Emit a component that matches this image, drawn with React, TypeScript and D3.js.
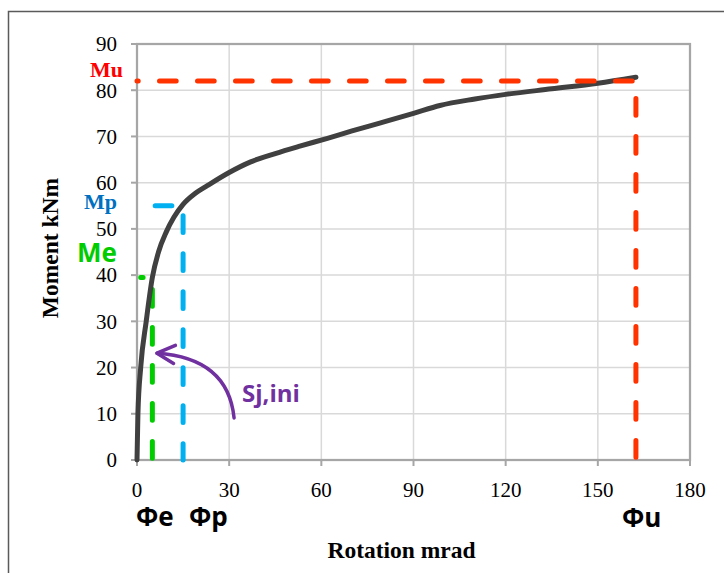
import React from "react";
import * as d3 from "d3";

const rotation = [0, 0.3, 1.2, 3, 5, 7, 9.5, 12, 15, 19, 23, 30, 37, 45, 53, 62, 70, 79, 90, 98.6, 110, 120, 135, 150, 162.4];
const moment = [0, 10, 20, 30, 39.5, 45, 49.3, 52.5, 55.3, 57.7, 59.4, 62.2, 64.5, 66.3, 67.9, 69.6, 71.2, 72.9, 75, 76.7, 78.1, 79.1, 80.3, 81.5, 82.8];

const xTicks = [0, 30, 60, 90, 120, 150, 180];
const yTicks = [0, 10, 20, 30, 40, 50, 60, 70, 80, 90];

// reference lines in data units
const phiE = 5;
const Me = 39.5;
const phiP = 15;
const Mp = 55;
const phiU = 162.4;
const Mu = 82;

const W = 724;
const H = 573;

export default function App() {
  const x = d3.scaleLinear().domain([0, 180]).range([137, 690]);
  const y = d3.scaleLinear().domain([0, 90]).range([460, 44]);

  const pts: [number, number][] = rotation.map((r, i) => [r, moment[i]]);
  const line = d3
    .line<[number, number]>()
    .x((d) => x(d[0]))
    .y((d) => y(d[1]))
    .curve(d3.curveMonotoneX);

  const poly = d3
    .line<[number, number]>()
    .x((d) => x(d[0]))
    .y((d) => y(d[1]));

  const redPath = poly([[0, Mu], [phiU, Mu], [phiU, 0]]);
  const bluePath = poly([[phiE, Mp], [phiP, Mp], [phiP, 0]]);
  const greenPath = poly([[1.2, Me], [phiE, Me], [phiE, 0]]);

  // arrow (data units)
  const aStart: [number, number] = [31.6, 9.1];
  const aCtrl: [number, number] = [29.6, 22.1];
  const aTip: [number, number] = [6.5, 23.1];
  const arrowD = `M${x(aStart[0])},${y(aStart[1])} Q${x(aCtrl[0])},${y(aCtrl[1])} ${x(aTip[0])},${y(aTip[1])}`;
  const headD = `M${x(12.5)},${y(24.8)} L${x(aTip[0])},${y(aTip[1])} L${x(11.9)},${y(20.9)}`;

  const dash = "16.7 21.3";
  const serif = "'Liberation Serif', 'Times New Roman', serif";
  const sans = "'Open Sans', 'Noto Sans', sans-serif";

  return (
    <svg
      width={W}
      height={H}
      style={{ position: "absolute", left: 0, top: 0, background: "#fff" }}
    >
      <rect x={0} y={0} width={W} height={H} fill="#fff" />
      <rect x={8.5} y={11.5} width={W + 20} height={H + 20} fill="none" stroke="#5a5a5a" strokeWidth={1.5} />

      {/* gridlines */}
      {xTicks.slice(1, -1).map((t) => (
        <line key={"gx" + t} x1={x(t)} x2={x(t)} y1={y(0)} y2={y(90)} stroke="#d9d9d9" strokeWidth={1.5} />
      ))}
      {yTicks.slice(1, -1).map((t) => (
        <line key={"gy" + t} x1={x(0)} x2={x(180)} y1={y(t)} y2={y(t)} stroke="#d9d9d9" strokeWidth={1.5} />
      ))}

      {/* plot border / axes */}
      <rect x={x(0)} y={y(90)} width={x(180) - x(0)} height={y(0) - y(90)} fill="none" stroke="#a6a6a6" strokeWidth={2.25} />
      {yTicks.map((t) => (
        <line key={"ty" + t} x1={x(0) - 6} x2={x(0)} y1={y(t)} y2={y(t)} stroke="#a6a6a6" strokeWidth={2} />
      ))}
      {xTicks.map((t) => (
        <line key={"tx" + t} x1={x(t)} x2={x(t)} y1={y(0)} y2={y(0) + 6} stroke="#a6a6a6" strokeWidth={2} />
      ))}

      {/* tick labels */}
      {yTicks.map((t) => (
        <text key={"ly" + t} x={117} y={y(t)} dy="0.35em" textAnchor="end" fontFamily={serif} fontSize={21} fill="#000">
          {t}
        </text>
      ))}
      {xTicks.map((t) => (
        <text key={"lx" + t} x={x(t)} y={497} textAnchor="middle" fontFamily={serif} fontSize={21} fill="#000">
          {t}
        </text>
      ))}

      {/* axis titles */}
      <text x={401.5} y={558} textAnchor="middle" fontFamily={serif} fontWeight="bold" fontSize={23.5} fill="#000">
        Rotation mrad
      </text>
      <text
        transform={`translate(58,248) rotate(-90)`}
        textAnchor="middle"
        fontFamily={serif}
        fontWeight="bold"
        fontSize={23.5}
        fill="#000"
      >
        Moment kNm
      </text>

      {/* reference dashed lines */}
      <path d={greenPath || ""} fill="none" stroke="#00cc00" strokeWidth={5} strokeLinecap="round" strokeDasharray={dash} strokeDashoffset={14.3} />
      <path d={bluePath || ""} fill="none" stroke="#00b0f0" strokeWidth={5} strokeLinecap="round" strokeDasharray={dash} strokeDashoffset={-2.8} />

      {/* curve */}
      <path d={line(pts) || ""} fill="none" stroke="#404040" strokeWidth={5} strokeLinecap="round" strokeLinejoin="round" />

      <path d={redPath || ""} fill="none" stroke="#ff3300" strokeWidth={5} strokeLinecap="round" strokeDasharray={dash} strokeDashoffset={15.5} />

      {/* arrow */}
      <path d={arrowD} fill="none" stroke="#7030a0" strokeWidth={3.5} strokeLinecap="round" />
      <path d={headD} fill="none" stroke="#7030a0" strokeWidth={3.5} strokeLinecap="round" strokeLinejoin="round" />

      {/* labels */}
      <text x={123} y={77} textAnchor="end" fontFamily={serif} fontWeight="bold" fontSize={22} fill="#ff0000">Mu</text>
      <text x={117} y={209} textAnchor="end" fontFamily={serif} fontWeight="bold" fontSize={22} fill="#0070c0">Mp</text>
      <text x={117} y={262} textAnchor="end" fontFamily={sans} fontWeight="bold" fontSize={26} fill="#00cc00">Me</text>
      <text x={242} y={402} fontFamily={sans} fontWeight="bold" fontSize={24} fill="#7030a0">Sj,ini</text>
      <text x={136} y={526} fontFamily={sans} fontWeight="bold" fontSize={26} fill="#000">Φe</text>
      <text x={189} y={526} fontFamily={sans} fontWeight="bold" fontSize={26} fill="#000">Φp</text>
      <text x={622} y={527} fontFamily={sans} fontWeight="bold" fontSize={26} fill="#000">Φu</text>
    </svg>
  );
}
